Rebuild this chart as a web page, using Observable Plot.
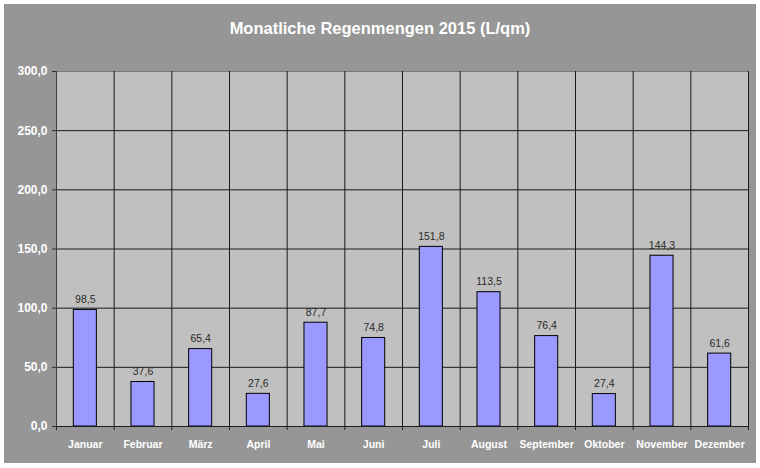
<!DOCTYPE html>
<html>
<head>
<meta charset="utf-8">
<script src="https://cdn.jsdelivr.net/npm/d3@7"></script>
<script src="https://cdn.jsdelivr.net/npm/@observablehq/plot@0.6"></script>
<style>
  html, body { margin: 0; padding: 0; background: #ffffff; }
  #wrap { position: relative; width: 760px; height: 468px; overflow: hidden; font-family: Arial, "Liberation Sans", sans-serif; }
  #bg { position: absolute; left: 4px; top: 4px; width: 752px; height: 459px; background: #969696; }
  #title { position: absolute; left: 0; top: 19px; width: 760px; text-align: center; color: #ffffff; font-weight: bold; font-size: 16.5px; line-height: 18px; }
  #chart { position: absolute; left: 0; top: 0; }
</style>
</head>
<body>
<div id="wrap">
  <div id="bg"></div>
  <div id="chart"></div>
  <div id="title">Monatliche Regenmengen 2015 (L/qm)</div>
</div>
<script>
const months = ["Januar","Februar","März","April","Mai","Juni","Juli","August","September","Oktober","November","Dezember"];
const rain = [98.5, 37.6, 65.4, 27.6, 87.7, 74.8, 151.8, 113.5, 76.4, 27.4, 144.3, 61.6];
const yTicks = [0, 50, 100, 150, 200, 250, 300];

const data = months.map((m, i) => ({month: m, idx: i, value: rain[i]}));
const boundaries = d3.range(0, months.length + 1);
const fmt = v => d3.format(".1f")(v).replace(".", ",");

const chart = Plot.plot({
  width: 760,
  height: 468,
  marginLeft: 56,
  marginRight: 12,
  marginTop: 71,
  marginBottom: 42,
  style: {background: "transparent", fontFamily: "Arial, 'Liberation Sans', sans-serif"},
  x: {domain: [0, months.length], axis: null},
  y: {domain: [0, 300], axis: null},
  marks: [
    Plot.frame({fill: "#c0c0c0", stroke: "#7a7a7a"}),
    Plot.ruleY(yTicks.slice(1, -1), {stroke: "#1a1a1a", strokeWidth: 1}),
    Plot.ruleX(boundaries.slice(1), {stroke: "#1a1a1a", strokeWidth: 1}),
    Plot.rectY(data, {x1: d => d.idx + 0.3, x2: d => d.idx + 0.7, y: "value", fill: "#9999ff", stroke: "#000000", strokeWidth: 1}),
    Plot.text(data, {x: d => d.idx + 0.5, y: "value", text: d => fmt(d.value), lineAnchor: "bottom", dy: -7, fill: "#2a2a2a", fontSize: 10.5}),
    Plot.ruleX([0], {stroke: "#404040"}),
    Plot.ruleY([0], {stroke: "#202020"}),
    Plot.axisY({ticks: yTicks, tickFormat: fmt, tickSize: 4, tickPadding: 5, fill: "#ffffff", stroke: "#303030", fontWeight: "bold", fontSize: 12, label: null}),
    Plot.axisX({ticks: boundaries, tickFormat: () => "", tickSize: 4, stroke: "#202020", label: null}),
    Plot.text(data, {x: d => d.idx + 0.5, text: "month", frameAnchor: "bottom", dy: 21, fill: "#ffffff", fontWeight: "bold", fontSize: 10.5})
  ]
});
document.getElementById("chart").appendChild(chart);
</script>
</body>
</html>
